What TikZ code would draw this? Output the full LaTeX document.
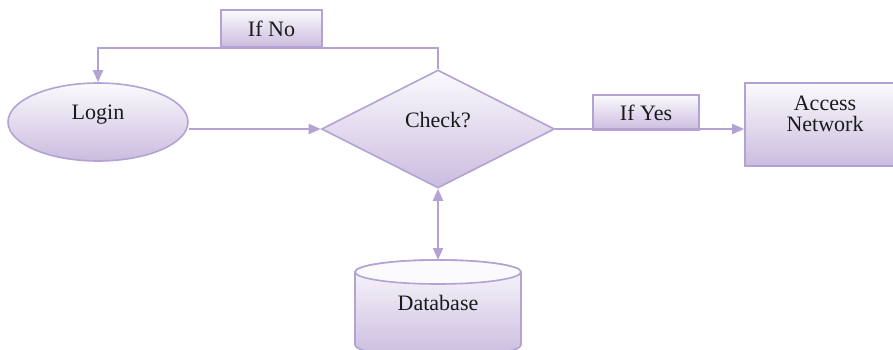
\documentclass[tikz,border=0pt]{standalone}
\usepackage{fontspec}
\setmainfont{Liberation Serif}
\usetikzlibrary{shapes.geometric,arrows.meta}
\definecolor{edge}{HTML}{B3A2D3}
\definecolor{fillbot}{HTML}{CBBCDF}
\definecolor{filltop}{HTML}{FBFAFD}
\definecolor{ink}{HTML}{1A1A1A}
\tikzset{
  shapefill/.style={draw=edge, line width=1.6pt, top color=filltop, bottom color=fillbot},
  lab/.style={font=\fontsize{22}{21}\selectfont, text=ink},
  conn/.style={draw=edge, line width=2pt, -{Triangle[length=12pt,width=10pt]}},
  dconn/.style={draw=edge, line width=2pt, {Triangle[length=12pt,width=10pt]}-{Triangle[length=12pt,width=10pt]}},
}
\begin{document}
\begin{tikzpicture}[x=1pt,y=1pt]
\useasboundingbox (0,0) rectangle (893,349);
\node[shapefill, ellipse, minimum width=180pt, minimum height=78pt, inner sep=0pt, lab] (login) at (98,227) {\raisebox{20pt}{Login}};
\node[shapefill, diamond, minimum width=233pt, minimum height=118pt, inner sep=0pt, lab] (check) at (438,220) {\raisebox{18pt}{Check?}};
\node[shapefill, rectangle, minimum width=101pt, minimum height=37pt, inner sep=0pt, lab] (ifno) at (271.5,320.5) {If No};
\node[shapefill, rectangle, minimum width=106pt, minimum height=35pt, inner sep=0pt, lab] (ifyes) at (646,236.5) {If Yes};
\node[shapefill, rectangle, minimum width=160pt, minimum height=83pt, inner sep=0pt,
  label={[lab, align=center, yshift=11pt]center:Access\\Network}] (access) at (825,224.5) {};
% database cylinder
\path[shapefill] (355,77) -- (355,4) arc[start angle=180, end angle=360, x radius=83, y radius=12] -- (521,77) arc[start angle=0, end angle=180, x radius=83, y radius=12] -- cycle;
\draw[draw=edge, line width=1.6pt, fill=filltop] (438,77) ellipse [x radius=83, y radius=12];
\coordinate (dbtop) at (438,89);
\node[lab] (db) at (438,46) {Database};
% connectors
\draw[conn] (login.east |- check.west) -- (check.west);
\draw[conn] (check.east) -- (check.east -| access.west);
\draw[conn] (check.north) -- (check.north |- ifno.south) -| (login.north);
\draw[dconn] (check.south) -- (dbtop);
\end{tikzpicture}
\end{document}
